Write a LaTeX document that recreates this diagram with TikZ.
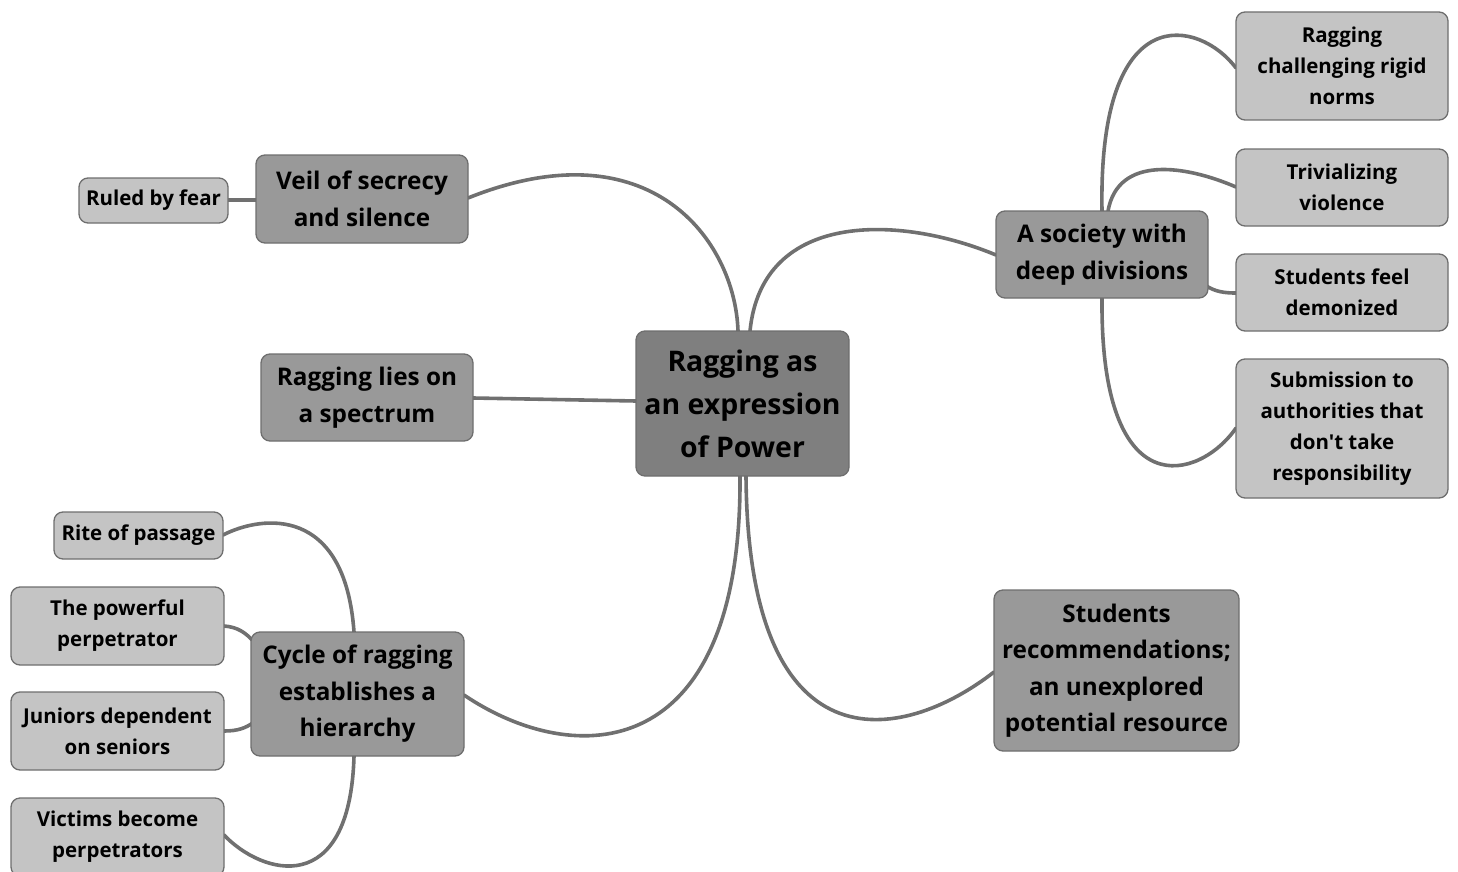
\documentclass[tikz,border=0pt]{standalone}
\usepackage{fontspec}
\setmainfont{Open Sans}[BoldFont={* Bold}, Ligatures=TeXOff]
\definecolor{cnode}{HTML}{7F7F7F}
\definecolor{mnode}{HTML}{999999}
\definecolor{lnode}{HTML}{C4C4C4}
\definecolor{bord}{HTML}{6E6E6E}
\definecolor{edge}{HTML}{707070}
\tikzset{
  box/.style={draw=bord, line width=1.3pt, rounded corners=9pt, inner sep=0pt, align=center, font=\bfseries},
  rootbox/.style={box, fill=cnode, font=\bfseries\fontsize{28.4}{43}\selectfont},
  midbox/.style={box, fill=mnode, font=\bfseries\fontsize{24.3}{36.5}\selectfont},
  leafbox/.style={box, fill=lnode, font=\bfseries\fontsize{20.5}{31}\selectfont},
  conn/.style={draw=edge, line width=3.6pt, line cap=round},
}
\begin{document}
\begin{tikzpicture}[x=1pt,y=-1pt]
\useasboundingbox (0,0) rectangle (1458,872);
% connectors first
\coordinate (c1) at (738,331);
\coordinate (c2) at (750,331);
\coordinate (c3) at (740,476);
\coordinate (c4) at (746,476);
\draw[conn] (468,198) .. controls (650,125) and (735,240) .. (c1);
\draw[conn] (c2) .. controls (762,210) and (900,215) .. (996,255);
\draw[conn] (473,398) -- (636,401);
\draw[conn] (c3) .. controls (742,765) and (575,770) .. (464,695);
\draw[conn] (c4) .. controls (748,770) and (900,745) .. (994,672);
\draw[conn] (228,200) -- (256,200);
% society children
\draw[conn] (1102,211) .. controls (1098,-5) and (1200,20) .. (1236,68);
\draw[conn] (1108,211) .. controls (1118,155) and (1185,165) .. (1236,187);
\draw[conn] (1205,285) .. controls (1215,292) and (1225,293) .. (1236,293);
\draw[conn] (1102,298) .. controls (1100,510) and (1200,480) .. (1236,428);
% cycle children
\draw[conn] (354,632) .. controls (345,505) and (262,515) .. (223,535);
\draw[conn] (224,626) .. controls (238,627) and (246,633) .. (254,642);
\draw[conn] (224,731) .. controls (238,731) and (246,728) .. (254,722);
\draw[conn] (354,756) .. controls (350,900) and (262,875) .. (224,835);
% nodes
\node[rootbox, minimum width=213pt, minimum height=145pt] (root) at (742.5,403.5) {Ragging as\\an expression\\of Power};
\node[midbox, minimum width=212pt, minimum height=88pt] (veil) at (362,199) {Veil of secrecy\\and silence};
\node[leafbox, minimum width=149pt, minimum height=45pt] (fear) at (153.5,200.5) {Ruled by fear};
\node[midbox, minimum width=212pt, minimum height=87pt] (spec) at (367,397.5) {Ragging lies on\\a spectrum};
\node[midbox, minimum width=212pt, minimum height=87pt] (soc) at (1102,254.5) {A society with\\deep divisions};
\node[leafbox, minimum width=212pt, minimum height=108pt] (norms) at (1342,66) {Ragging\\challenging rigid\\norms};
\node[leafbox, minimum width=212pt, minimum height=77pt] (triv) at (1342,187.5) {Trivializing\\violence};
\node[leafbox, minimum width=212pt, minimum height=77pt] (demon) at (1342,292.5) {Students feel\\demonized};
\node[leafbox, minimum width=212pt, minimum height=139pt] (subm) at (1342,428.5) {Submission to\\authorities that\\don't take\\responsibility};
\node[midbox, minimum width=245pt, minimum height=161pt] (rec) at (1116.5,670.5) {Students\\recommendations;\\an unexplored\\potential resource};
\node[midbox, minimum width=213pt, minimum height=124pt] (cyc) at (357.5,694) {Cycle of ragging\\establishes a\\hierarchy};
\node[leafbox, minimum width=169pt, minimum height=47pt] (rite) at (138.5,535.5) {Rite of passage};
\node[leafbox, minimum width=213pt, minimum height=78pt] (pow) at (117.5,626) {The powerful\\perpetrator};
\node[leafbox, minimum width=213pt, minimum height=78pt] (jun) at (117.5,731) {Juniors dependent\\on seniors};
\node[leafbox, minimum width=213pt, minimum height=78pt] (vic) at (117.5,837) {Victims become\\perpetrators};
\end{tikzpicture}
\end{document}
